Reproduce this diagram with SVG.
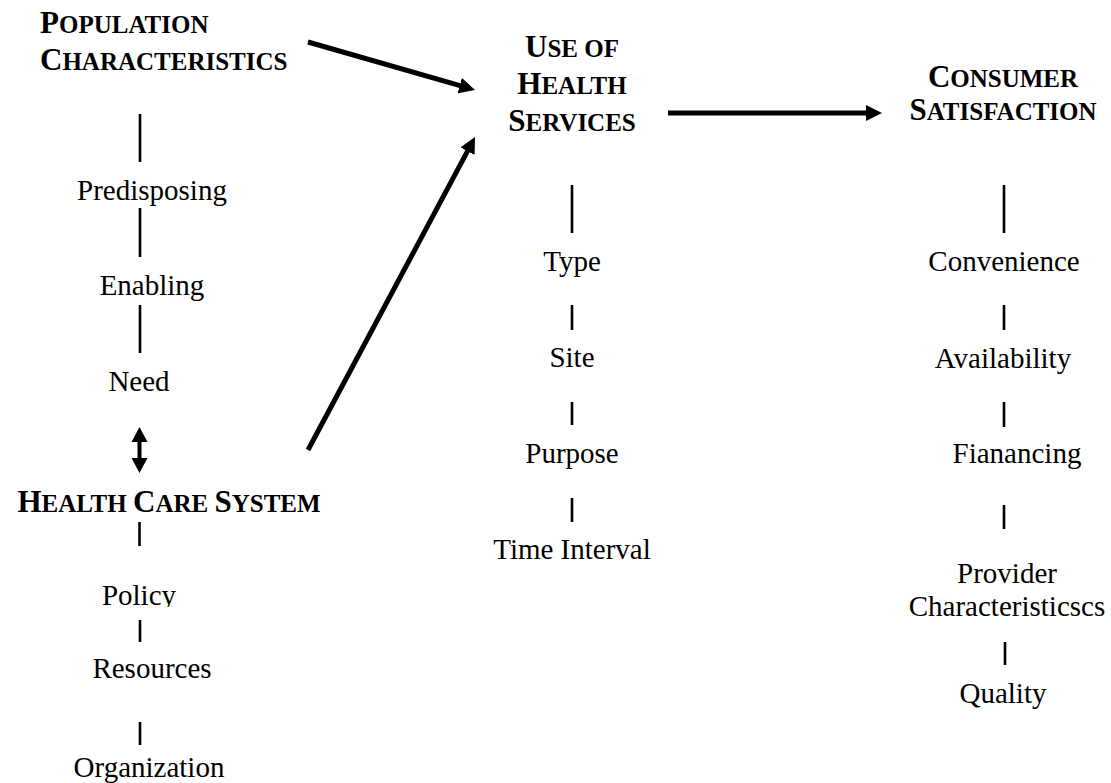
<svg xmlns="http://www.w3.org/2000/svg" width="1111" height="783" viewBox="0 0 1111 783">
  <style>
    .h { font-family: "Liberation Serif", "Times New Roman", serif; font-weight: bold; font-size: 25px; fill: #000; }
    .h .cap { font-size: 31px; }
    .t { font-family: "Liberation Serif", "Times New Roman", serif; font-size: 29px; fill: #000; text-anchor: middle; }
    .bar { stroke: #000; stroke-width: 2.6; }
    .arrow { stroke: #000; stroke-width: 5; fill: none; marker-end: url(#head); }
  </style>
  <defs>
    <marker id="head" markerUnits="userSpaceOnUse" markerWidth="16" markerHeight="16" refX="4" refY="8" orient="auto">
      <path d="M0,0 L16,8 L0,16 Z" fill="#000"/>
    </marker>
    <clipPath id="policyClip">
      <rect x="0" y="570" width="300" height="37"/>
    </clipPath>
  </defs>
  <rect width="1111" height="783" fill="#fff"/>

  <!-- population characteristics -->
  <g id="population">
    <text class="h" x="40" y="33"><tspan class="cap">P</tspan>OPULATION</text>
    <text class="h" x="40" y="70"><tspan class="cap">C</tspan>HARACTERISTICS</text>
    <text class="t" x="152" y="200">Predisposing</text>
    <text class="t" x="152" y="295">Enabling</text>
    <text class="t" x="139" y="391">Need</text>
  </g>

  <!-- health care system -->
  <g id="health-care-system">
    <text class="h" x="169" y="512" text-anchor="middle"><tspan class="cap">H</tspan>EALTH <tspan class="cap">C</tspan>ARE <tspan class="cap">S</tspan>YSTEM</text>
    <text class="t" x="139" y="605" clip-path="url(#policyClip)">Policy</text>
    <text class="t" x="152" y="678">Resources</text>
    <text class="t" x="149" y="777">Organization</text>
  </g>

  <!-- use of health services -->
  <g id="use-of-services">
    <text class="h" x="572" y="57" text-anchor="middle"><tspan class="cap">U</tspan>SE OF</text>
    <text class="h" x="572" y="94" text-anchor="middle"><tspan class="cap">H</tspan>EALTH</text>
    <text class="h" x="572" y="131" text-anchor="middle"><tspan class="cap">S</tspan>ERVICES</text>
    <text class="t" x="572" y="271">Type</text>
    <text class="t" x="572" y="367">Site</text>
    <text class="t" x="572" y="463">Purpose</text>
    <text class="t" x="572" y="559">Time Interval</text>
  </g>

  <!-- consumer satisfaction -->
  <g id="consumer-satisfaction">
    <text class="h" x="1003" y="87" text-anchor="middle"><tspan class="cap">C</tspan>ONSUMER</text>
    <text class="h" x="1003" y="120" text-anchor="middle"><tspan class="cap">S</tspan>ATISFACTION</text>
    <text class="t" x="1004" y="271">Convenience</text>
    <text class="t" x="1003" y="368">Availability</text>
    <text class="t" x="1017" y="463">Fianancing</text>
    <text class="t" x="1007" y="583">Provider</text>
    <text class="t" x="1007" y="616">Characteristicscs</text>
    <text class="t" x="1003" y="703">Quality</text>
  </g>

  <!-- connectors -->
  <g id="connectors">
    <line class="arrow" x1="308" y1="42" x2="463.5" y2="86.7"/>
    <line class="arrow" x1="308" y1="450" x2="469.4" y2="147.6"/>
    <line class="arrow" x1="668" y1="113" x2="870" y2="113"/>
    <path d="M139.5,427 L147.5,442 L141.5,442 L141.5,458 L147.5,458 L139.5,473 L131.5,458 L137.5,458 L137.5,442 L131.5,442 Z" fill="#000"/>

    <line class="bar" x1="140" y1="114" x2="140" y2="162"/>
    <line class="bar" x1="140" y1="208" x2="140" y2="257"/>
    <line class="bar" x1="140" y1="305" x2="140" y2="353"/>
    <line class="bar" x1="139.5" y1="522" x2="139.5" y2="546"/>
    <line class="bar" x1="140" y1="620" x2="140" y2="642"/>
    <line class="bar" x1="140" y1="722" x2="140" y2="745"/>

    <line class="bar" x1="572" y1="185" x2="572" y2="233"/>
    <line class="bar" x1="572" y1="305" x2="572" y2="330"/>
    <line class="bar" x1="572" y1="402" x2="572" y2="425"/>
    <line class="bar" x1="572" y1="498" x2="572" y2="522"/>

    <line class="bar" x1="1004" y1="185" x2="1004" y2="233"/>
    <line class="bar" x1="1004" y1="305" x2="1004" y2="330"/>
    <line class="bar" x1="1004" y1="402" x2="1004" y2="427"/>
    <line class="bar" x1="1004" y1="505" x2="1004" y2="529"/>
    <line class="bar" x1="1005" y1="642" x2="1005" y2="665"/>
  </g>
</svg>
